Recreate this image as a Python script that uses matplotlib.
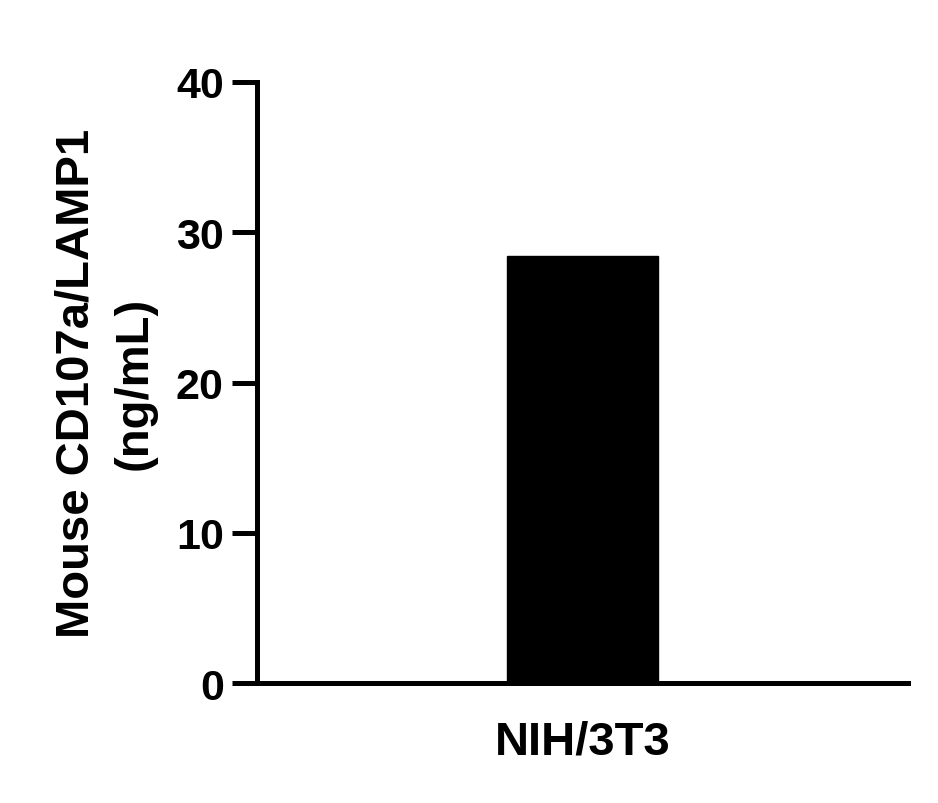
import matplotlib
matplotlib.use("Agg")
import matplotlib.pyplot as plt

categories = ["NIH/3T3"]
values = [28.4]
yticks = [0, 10, 20, 30, 40]

plt.rcParams['font.family'] = ['Liberation Sans', 'DejaVu Sans']
plt.rcParams['font.weight'] = 'bold'

fig = plt.figure(figsize=(9.38, 8.04), dpi=100)
ax = fig.add_axes([0.274, 0.149, 0.694, 0.748])

ax.bar([0], values, width=0.232, color='black', edgecolor='black')
ax.set_xlim(-0.5, 0.5)
ax.set_ylim(0, 40)
ax.set_yticks(yticks)
ax.set_yticklabels([str(t) for t in yticks], fontsize=31, fontweight='bold')
ax.set_xticks([0])
ax.set_xticklabels(categories, fontsize=34, fontweight='bold')
ax.tick_params(axis='x', length=0, pad=26)
ax.tick_params(axis='y', length=18, width=3.6, pad=6)

for s in ['top', 'right']:
    ax.spines[s].set_visible(False)
for s in ['left', 'bottom']:
    ax.spines[s].set_linewidth(3.6)
    ax.spines[s].set_capstyle('projecting')

ax.set_ylabel("Mouse CD107a/LAMP1\n(ng/mL)", fontsize=34, fontweight='bold', labelpad=14, linespacing=1.42)

fig.savefig("out.png", dpi=100)
